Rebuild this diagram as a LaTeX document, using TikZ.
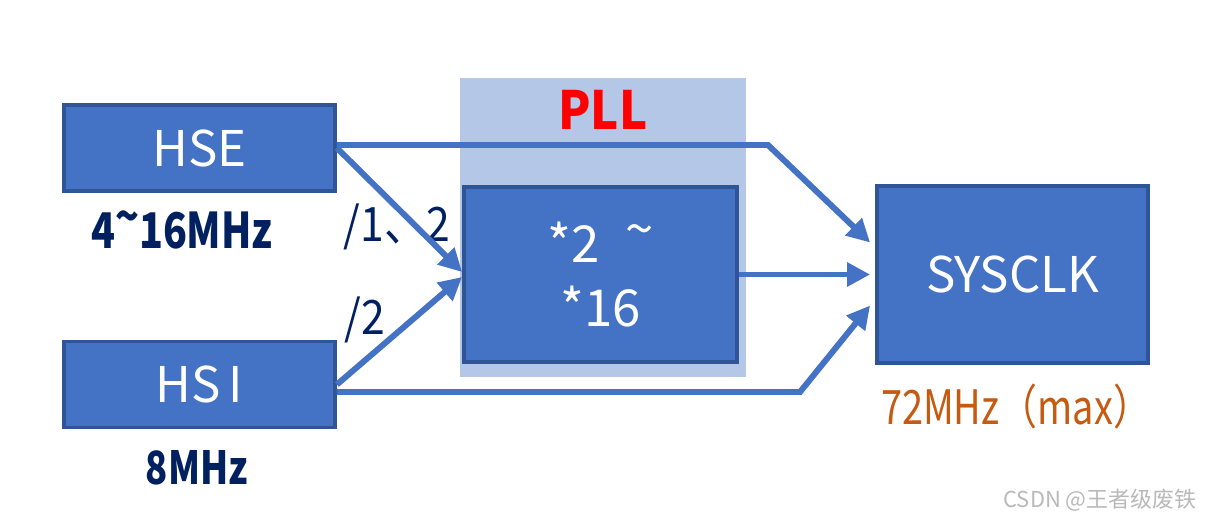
\documentclass[tikz,border=0pt]{standalone}
\usepackage{fontspec}
\setmainfont{Noto Sans CJK SC}
\newfontfamily\narrowfont[FakeStretch=0.8]{Noto Sans CJK SC}
\newfontfamily\slimfont[FakeStretch=0.9]{Noto Sans CJK SC}
\usetikzlibrary{arrows.meta, positioning}
\definecolor{clkblue}{RGB}{68,114,196}
\definecolor{clkedge}{RGB}{47,85,151}
\definecolor{pllshade}{RGB}{180,199,231}
\definecolor{labnavy}{RGB}{0,32,96}
\definecolor{maxorange}{RGB}{197,90,17}
\newcommand{\hitilde}{\raisebox{0.3em}{\textasciitilde}}
\tikzstyle{clkbox} = [rectangle, fill=clkblue, draw=clkedge, line width=2.2pt,
text=white, font=\fontsize{28}{40}\selectfont,
minimum width=5.42cm, minimum height=1.72cm,
align=center, inner sep=0pt]
\tikzstyle{freqlabel} = [text=labnavy, font=\narrowfont\fontsize{28}{32}\selectfont\bfseries]
\tikzstyle{divlabel} = [text=labnavy, font=\slimfont\fontsize{27}{30}\selectfont]
\tikzstyle{arrow} = [-{Triangle[length=4.6mm,width=4.6mm]}, line width=3.4pt, draw=clkblue]

\begin{document}
\begin{tikzpicture}[x=0.02cm, y=-0.02cm]
    \useasboundingbox (0,0) rectangle (1207,522);
    % PLL shaded area
    \node (pllbg) [fill=pllshade, minimum width=5.72cm, minimum height=5.98cm, inner sep=0pt] at (603,227.5) {};
    \node (plltitle) [text=red, font=\slimfont\fontsize{30}{32}\selectfont\bfseries] at (603,110) {PLL};

    \node (hse) [clkbox] at (199.5,148) {HSE};
    \node (hsi) [clkbox] at (199.5,384.5) {HS\,I};
    \node (pll) [clkbox, minimum width=5.46cm, minimum height=3.5cm, font=\fontsize{29}{36}\selectfont] at (600.5,274.5) {*2\,\,\,\hitilde\\*16};
    \node (sys) [clkbox, minimum height=3.54cm] at (1012.5,274.5) {SYSCLK};

    \node (hsefreq) [freqlabel] at (182,230) {4\hitilde16MHz};
    \node (hsifreq) [freqlabel, font=\narrowfont\fontsize{26}{30}\selectfont\bfseries] at (197,468) {8MHz};
    \node (sysfreq) [text=maxorange, font=\narrowfont\fontsize{27}{30}\selectfont] at (1016,406) {72MHz（max）};
    \node (hsediv) [divlabel] at (397,227) {/1、2};
    \node (hsidiv) [divlabel] at (365,320) {/2};

    \coordinate (hsebend) at (768,145);
    \coordinate (hsibend) at (800,392);

    \draw[arrow] ([yshift=0.06cm]hse.east) -- (hsebend) -- ([xshift=-0.1cm,yshift=0.64cm]sys.west);
    \draw[arrow] (hse.east) -- ([yshift=0.05cm]pll.west);
    \draw[arrow] (hsi.east) -- ([yshift=-0.05cm]pll.west);
    \draw[arrow] ([yshift=-0.15cm]hsi.east) -- (hsibend) -- ([xshift=-0.1cm,yshift=-0.62cm]sys.west);
    \draw[arrow] (pll.east) -- ([xshift=-0.1cm]sys.west);

    \node (mark) [text=gray!55, font=\fontsize{12.5}{14}\selectfont] at (1100,500) {CSDN @王者级废铁};
\end{tikzpicture}
\end{document}
